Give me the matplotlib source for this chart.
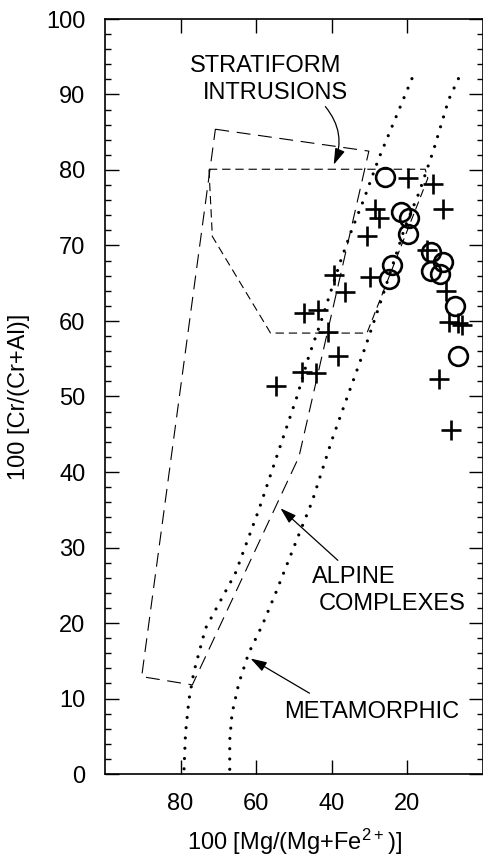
import matplotlib
matplotlib.use("Agg")
import matplotlib.pyplot as plt
from matplotlib.ticker import MultipleLocator

plt.rcParams['font.family'] = ['Liberation Sans', 'DejaVu Sans']
plt.rcParams['mathtext.fontset'] = 'custom'
plt.rcParams['mathtext.rm'] = 'Liberation Sans'
plt.rcParams['mathtext.default'] = 'rm'
plt.rcParams['lines.scale_dashes'] = False

# spinel analyses: 100 Mg/(Mg+Fe2+) vs 100 Cr/(Cr+Al)
circle_mg = [25.8, 21.6, 19.7, 19.9, 24.1, 25.0, 13.7, 10.6, 13.7, 11.3, 7.5, 6.7]
circle_cr = [79.1, 74.4, 73.7, 71.5, 67.4, 65.5, 69.2, 67.8, 66.6, 66.2, 62.0, 55.3]

cross_mg = [19.9, 13.3, 10.7, 28.5, 27.6, 30.8, 14.9, 9.7, 29.8, 39.5, 36.4, 43.6,
            47.4, 41.1, 9.1, 6.7, 5.6, 38.4, 47.9, 44.3, 54.7, 11.6, 8.4]
cross_cr = [79.0, 78.1, 74.9, 74.8, 73.6, 71.3, 69.4, 64.0, 65.8, 66.1, 63.9, 61.5,
            61.0, 58.6, 59.9, 59.8, 59.5, 55.3, 53.3, 53.1, 51.4, 52.3, 45.6]

# alpine complexes field (long dashes)
alpine_mg = [70.8, 30.2, 48.7, 76.9, 90.3, 70.8]
alpine_cr = [85.4, 82.5, 42.0, 11.8, 12.9, 85.4]

# stratiform intrusions field (short dashes)
strat_mg = [72.5, 15.3, 14.6, 30.7, 56.2, 71.6, 72.5]
strat_cr = [80.1, 80.1, 78.9, 58.4, 58.4, 71.2, 80.1]

# metamorphic boundaries (dotted)
dot1_mg = [18.8, 23.2, 27.6, 31.6, 34.7, 37.7, 40.4, 43.0, 46.1, 49.2, 54.0, 59.3,
           65.5, 73.4, 76.5, 77.8, 78.7, 79.1, 79.2]
dot1_cr = [92.1, 86.8, 81.5, 76.0, 72.1, 67.9, 63.7, 59.7, 55.3, 50.0, 42.9, 35.0,
           26.6, 19.3, 13.5, 9.8, 5.4, 0.5, 0.0]
dot2_mg = [6.5, 9.1, 13.1, 17.0, 20.6, 26.3, 31.1, 36.0, 40.0, 45.2, 49.6, 54.9,
           58.4, 62.0, 64.6, 66.4, 67.0, 67.0]
dot2_cr = [92.1, 89.3, 82.6, 76.9, 72.5, 63.7, 56.6, 49.8, 44.2, 36.1, 30.6, 23.9,
           19.7, 16.0, 12.0, 8.0, 4.5, 0.0]

fig = plt.figure(figsize=(4.83, 8.63), dpi=100)
ax = fig.add_axes([105 / 483, 89 / 863, 378 / 483, 755 / 863])

ax.plot(alpine_mg, alpine_cr, color='k', lw=0.8, dashes=(10, 5.5))
ax.plot(strat_mg, strat_cr, color='k', lw=0.8, dashes=(6, 3.5))
for xs, ys in [(dot1_mg, dot1_cr), (dot2_mg, dot2_cr)]:
    ax.plot(xs, ys, color='k', lw=2.3, dashes=(0.01, 7.4),
            dash_capstyle='round', solid_capstyle='round')

ax.plot(cross_mg, cross_cr, '+', color='k', ms=15, mew=1.9)
ax.plot(circle_mg, circle_cr, 'o', mfc='none', mec='k', ms=13.5, mew=1.9)

arrow = dict(arrowstyle='-|>,head_length=0.7,head_width=0.22', color='k',
             lw=0.9, mutation_scale=14, shrinkA=0, shrinkB=0)
ax.annotate('', xy=(39.5, 80.7), xytext=(41.7, 88.4),
            arrowprops=dict(arrow, connectionstyle='arc3,rad=-0.3'))
ax.annotate('', xy=(53.6, 35.2), xytext=(38.4, 28.3), arrowprops=arrow)
ax.annotate('', xy=(61.5, 15.3), xytext=(45.9, 10.7), arrowprops=arrow)

fs = 17
ax.text(77.5, 93.0, 'STRATIFORM', fontsize=fs, ha='left', va='baseline')
ax.text(74.0, 89.4, 'INTRUSIONS', fontsize=fs, ha='left', va='baseline')
ax.text(45.2, 25.3, 'ALPINE', fontsize=fs, ha='left', va='baseline')
ax.text(43.5, 21.7, 'COMPLEXES', fontsize=fs, ha='left', va='baseline')
ax.text(52.7, 7.4, 'METAMORPHIC', fontsize=fs, ha='left', va='baseline')

ax.set_xlim(100, 0)
ax.set_ylim(0, 100)
ax.set_xticks([80, 60, 40, 20])
ax.yaxis.set_major_locator(MultipleLocator(10))
ax.yaxis.set_minor_locator(MultipleLocator(2))
ax.tick_params(which='both', direction='in', top=True, right=True, width=1)
ax.tick_params(which='major', length=10, labelsize=fs, pad=14)
ax.tick_params(which='minor', length=4)
for sp in ax.spines.values():
    sp.set_linewidth(1.2)

ax.set_xlabel('100 [Mg/(Mg+Fe$^{2+}$)]', fontsize=fs, labelpad=8)
ax.set_ylabel('100 [Cr/(Cr+Al)]', fontsize=fs, labelpad=12)

fig.savefig('out.png', dpi=100)
